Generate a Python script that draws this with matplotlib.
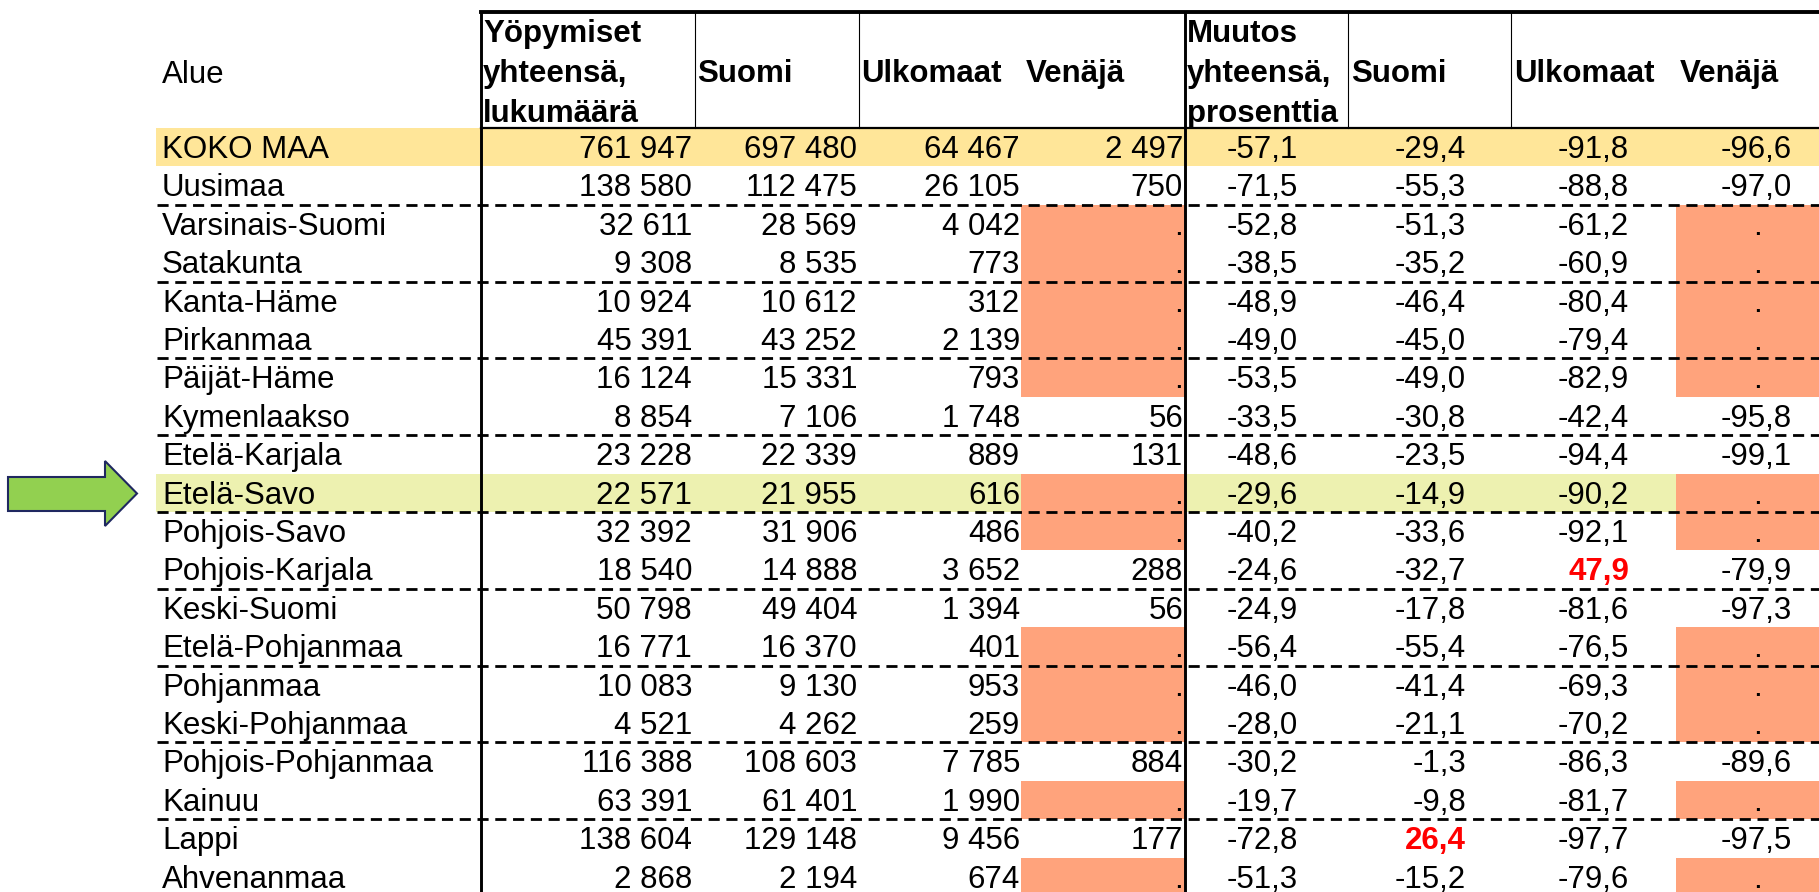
import matplotlib.pyplot as plt
from matplotlib.patches import Rectangle, Polygon

plt.rcParams['font.family'] = ['Liberation Sans', 'DejaVu Sans']

regions = ["KOKO MAA", "Uusimaa", "Varsinais-Suomi", "Satakunta", "Kanta-Häme",
           "Pirkanmaa", "Päijät-Häme", "Kymenlaakso", "Etelä-Karjala", "Etelä-Savo",
           "Pohjois-Savo", "Pohjois-Karjala", "Keski-Suomi", "Etelä-Pohjanmaa",
           "Pohjanmaa", "Keski-Pohjanmaa", "Pohjois-Pohjanmaa", "Kainuu", "Lappi",
           "Ahvenanmaa"]
total = [761947, 138580, 32611, 9308, 10924, 45391, 16124, 8854, 23228, 22571,
         32392, 18540, 50798, 16771, 10083, 4521, 116388, 63391, 138604, 2868]
suomi = [697480, 112475, 28569, 8535, 10612, 43252, 15331, 7106, 22339, 21955,
         31906, 14888, 49404, 16370, 9130, 4262, 108603, 61401, 129148, 2194]
ulkomaat = [64467, 26105, 4042, 773, 312, 2139, 793, 1748, 889, 616,
            486, 3652, 1394, 401, 953, 259, 7785, 1990, 9456, 674]
venaja = [2497, 750, None, None, None, None, None, 56, 131, None,
          None, 288, 56, None, None, None, 884, None, 177, None]
ch_total = [-57.1, -71.5, -52.8, -38.5, -48.9, -49.0, -53.5, -33.5, -48.6, -29.6,
            -40.2, -24.6, -24.9, -56.4, -46.0, -28.0, -30.2, -19.7, -72.8, -51.3]
ch_suomi = [-29.4, -55.3, -51.3, -35.2, -46.4, -45.0, -49.0, -30.8, -23.5, -14.9,
            -33.6, -32.7, -17.8, -55.4, -41.4, -21.1, -1.3, -9.8, 26.4, -15.2]
ch_ulkomaat = [-91.8, -88.8, -61.2, -60.9, -80.4, -79.4, -82.9, -42.4, -94.4, -90.2,
               -92.1, 47.9, -81.6, -76.5, -69.3, -70.2, -86.3, -81.7, -97.7, -79.6]
ch_venaja = [-96.6, -97.0, None, None, None, None, None, -95.8, -99.1, None,
             None, -79.9, -97.3, None, None, None, -89.6, None, -97.5, None]

# values shown in red bold (row, column)
red_cells = [(11, 'ch_ulkomaat'), (18, 'ch_suomi')]

W, H = 1819, 892
fig = plt.figure(figsize=(W / 100, H / 100), dpi=100)
ax = fig.add_axes([0, 0, 1, 1])
ax.set_xlim(0, W)
ax.set_ylim(H, 0)
ax.axis('off')

fs = 22.5
top, head_bot, row_h = 12, 128, 38.4
name_x = 162

# column right edges for the values, and column boundaries
cols = [('total', total, 692, 481, 695), ('suomi', suomi, 857, 695, 859),
        ('ulkomaat', ulkomaat, 1020, 859, 1021), ('venaja', venaja, 1183, 1021, 1185),
        ('ch_total', ch_total, 1298, 1185, 1348), ('ch_suomi', ch_suomi, 1466, 1348, 1511),
        ('ch_ulkomaat', ch_ulkomaat, 1629, 1511, 1676), ('ch_venaja', ch_venaja, 1792, 1676, 1840)]

orange = '#FFA37C'


def fmt(v, pct):
    if v is None:
        return '.'
    if pct:
        return f'{v:.1f}'.replace('.', ',')
    return f'{v:,}'.replace(',', ' ')


# row highlights
ax.add_patch(Rectangle((156, head_bot), W - 156, row_h, color='#FFE699', lw=0, zorder=0))
es = regions.index('Etelä-Savo')
ax.add_patch(Rectangle((156, head_bot + es * row_h), 1676 - 156, row_h,
                       color='#EDF1B0', lw=0, zorder=0))

for i, name in enumerate(regions):
    y0 = head_bot + i * row_h
    yb = y0 + 30
    ax.text(name_x, yb, name, fontsize=fs, va='baseline', ha='left')
    for key, vals, xr, cl, cr in cols:
        v = vals[i]
        pct = key.startswith('ch_')
        if v is None:
            ax.add_patch(Rectangle((cl, y0), cr - cl, row_h, color=orange, lw=0, zorder=0.5))
            if pct:
                ax.text((cl + cr) / 2 - 1, yb, '.', fontsize=fs, va='baseline', ha='center')
            else:
                ax.text(xr, yb, '.', fontsize=fs, va='baseline', ha='right')
            continue
        red = (i, key) in red_cells
        ax.text(xr, yb, fmt(v, pct), fontsize=fs, va='baseline', ha='right',
                color='#FF0000' if red else 'black',
                fontweight='bold' if red else 'normal')
    if i % 2 == 1 and i < len(regions) - 1:
        ax.plot([157, W], [y0 + row_h, y0 + row_h], color='black', lw=2.0,
                ls=(0, (4.0, 2.4)), zorder=2)

# header
ax.text(name_x, 75, 'Alue', fontsize=fs, va='center', ha='left')
head_lines = [(483, ['Yöpymiset', 'yhteensä,', 'lukumäärä']), (697, ['', 'Suomi', '']),
              (861, ['', 'Ulkomaat', '']), (1026, ['', 'Venäjä', '']),
              (1187, ['Muutos', 'yhteensä,', 'prosenttia']), (1351, ['', 'Suomi', '']),
              (1514, ['', 'Ulkomaat', '']), (1680, ['', 'Venäjä', ''])]
for x, lines in head_lines:
    for k, t in enumerate(lines):
        if t:
            ax.text(x, [34, 74, 114][k], t, fontsize=fs, fontweight='bold',
                    va='center', ha='left')

# grid lines
ax.plot([481, W], [top, top], color='black', lw=2.8, zorder=3)
ax.plot([481, W], [head_bot, head_bot], color='black', lw=1.6, zorder=3)
for x in [695, 859, 1348, 1511]:
    ax.plot([x, x], [top, head_bot], color='black', lw=0.8, zorder=3)
for x in [481, 1185]:
    ax.plot([x, x], [top, H], color='black', lw=2.1, zorder=3)

# arrow pointing at Etelä-Savo
ax.add_patch(Polygon([(8, 477), (105, 477), (105, 461), (137, 493.5), (105, 526),
                      (105, 511), (8, 511)], closed=True, facecolor='#92D050',
                     edgecolor='#1F2860', lw=1.5, zorder=3))

fig.savefig('out.png', dpi=100)
